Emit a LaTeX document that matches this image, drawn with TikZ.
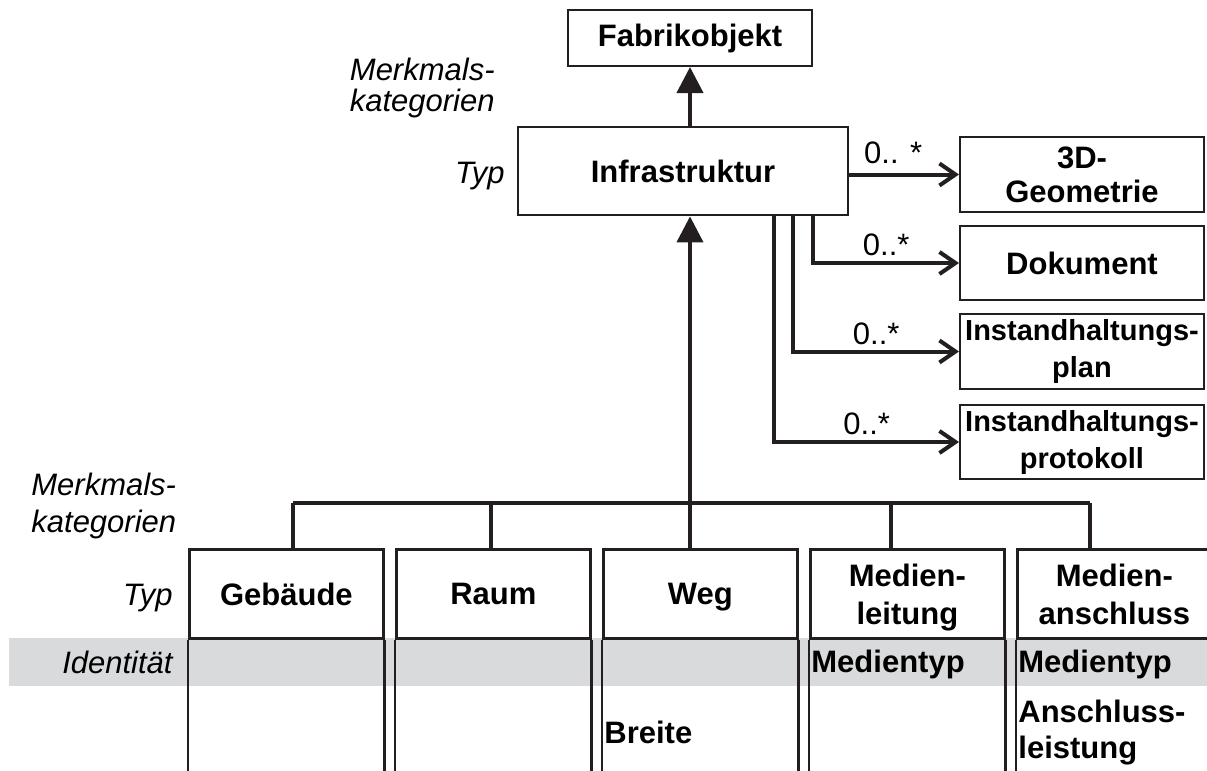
\documentclass[tikz,border=0pt]{standalone}
\usepackage{fontspec}
\setmainfont{Liberation Sans}
\usetikzlibrary{arrows.meta,positioning,calc}
\definecolor{LinieGrau}{HTML}{231F20}
\definecolor{BandGrau}{HTML}{D9DADC}

\begin{document}
\begin{tikzpicture}[
  x=0.5pt,y=-0.5pt,
  klasse/.style={rectangle,draw=LinieGrau,line width=1pt,inner sep=0pt,align=center,
    minimum width=122pt,font=\fontsize{15.5}{17}\selectfont\bfseries},
  typzelle/.style={rectangle,draw=LinieGrau,line width=1.4pt,inner sep=0pt,anchor=north west,
    minimum width=97pt,minimum height=44.5pt,text depth=0pt,align=center,
    font=\fontsize{15.5}{19}\selectfont\bfseries},
  eintrag/.style={inner sep=0pt,anchor=base west,align=left,font=\fontsize{15.5}{18}\selectfont\bfseries},
  zeile/.style={inner sep=0pt,font=\fontsize{15.5}{16}\selectfont\itshape},
  mult/.style={inner sep=2.5pt,font=\fontsize{15.5}{17}\selectfont},
  spalte/.style={line width=1.4pt,draw=LinieGrau},
  schiene/.style={line width=2.2pt,draw=LinieGrau},
  gen/.style={-{Triangle[length=13pt,width=13pt]},line width=2pt,draw=LinieGrau,fill=LinieGrau},
  assoc/.style={-{Straight Barb[length=8pt,width=11pt]},line width=2pt,draw=LinieGrau}
]
\useasboundingbox (0,0) rectangle (1207,771);
\fill[BandGrau] (9,638) rectangle (1207,686);

\node[klasse,minimum height=28pt] (fabrik) at (690,38) {Fabrikobjekt};
\node[klasse,line width=1.4pt,minimum width=165pt,minimum height=44pt] (infra) at (683,171) {Infrastruktur};
\node[klasse,minimum height=37.5pt] (geo) at (1082,174.5) {3D-\\Geometrie};
\node[klasse,minimum height=37pt] (dok) at (1082,263) {Dokument};
\node[klasse,minimum height=37.5pt,font=\fontsize{14.5}{18.5}\selectfont\bfseries] (plan) at (1082,351.5) {Instandhaltungs-\\plan};
\node[klasse,minimum height=37pt,font=\fontsize{14.5}{18.5}\selectfont\bfseries] (prot) at (1082,442) {Instandhaltungs-\\protokoll};

\node[zeile,anchor=base east,align=right] (mk1) at (495,112) {Merkmals-\\kategorien};
\node[zeile,anchor=base east] (typ1) at (505,183) {Typ};

\draw[gen] (infra.north -| fabrik.south) -- (fabrik.south);
\draw[assoc] (infra.east |- geo.west) -- node[mult,above=2pt,pos=0.4] {0.. *} (geo.west);
\draw[assoc] ($(infra.south east)+(-36,0)$) |- node[mult,above,pos=0.75] {0..*} (dok.west);
\draw[assoc] ($(infra.south east)+(-56,0)$) |- node[mult,above,pos=0.75] {0..*} (plan.west);
\draw[assoc] ($(infra.south east)+(-75,0)$) |- node[mult,above,pos=0.75] {0..*} (prot.west);

\node[zeile,anchor=base west,align=left,font=\fontsize{15.5}{18.5}\selectfont\itshape] (mk2) at (31,532) {Merkmals-\\kategorien};
\node[zeile,anchor=base east] (typ2) at (173,605) {Typ};
\node[zeile,anchor=base east] (ident) at (173,673) {Identität};

\node[typzelle] (geb) at (188,548) {Gebäude};
\node[typzelle] (raum) at (395,548) {Raum};
\node[typzelle] (weg) at (602,548) {Weg};
\node[typzelle] (mleit) at (809,548) {Medien-\\leitung};
\node[typzelle] (manschl) at (1016,548) {Medien-\\anschluss};
\foreach \z in {geb,raum,weg,mleit,manschl}
  \draw[spalte] (\z.south west) -- ++(0,140) (\z.south east) -- ++(0,140);

\node[eintrag] (mtyp1) at (811,672) {Medientyp};
\node[eintrag] (mtyp2) at (1018,672) {Medientyp};
\node[eintrag] (breite) at (604,743) {Breite};
\node[eintrag] (anschl) at (1018,758) {Anschluss-\\leistung};

\coordinate (bus1) at (293,503);
\coordinate (bus2) at (491,503);
\coordinate (bus3) at (690,503);
\coordinate (bus4) at (891,503);
\coordinate (bus5) at (1090,503);
\draw[schiene] (bus1) -- (bus5);
\foreach \a/\b in {bus1/geb,bus2/raum,bus3/weg,bus4/mleit,bus5/manschl}
  \draw[schiene] (\a) -- (\a |- \b.north);
\draw[gen] (bus3) -- (bus3 |- infra.south);
\end{tikzpicture}
\end{document}
